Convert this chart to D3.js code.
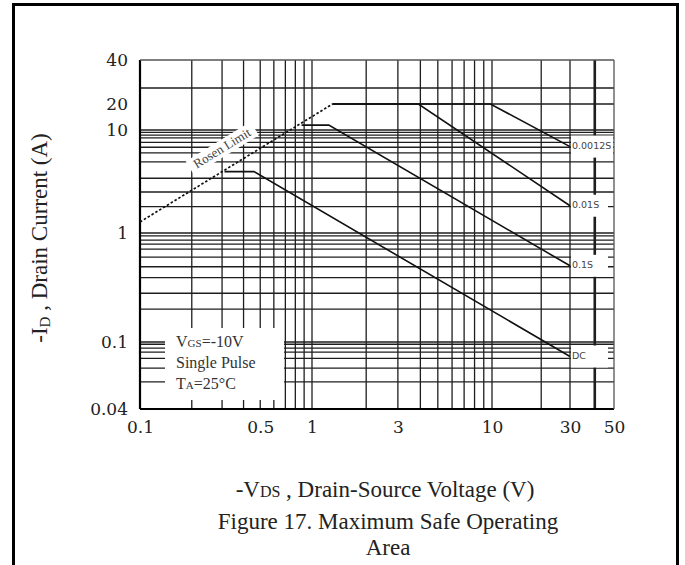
<!DOCTYPE html>
<html>
<head>
<meta charset="utf-8">
<script src="https://cdn.jsdelivr.net/npm/d3@7"></script>
<style>
  body { margin: 0; background: #fff; }
  svg { display: block; }
</style>
</head>
<body>
<div id="chart"></div>
<script>
// Maximum Safe Operating Area

// axis labels
const xTicks = [0.1, 0.5, 1, 3, 10, 30, 50];
const yTicks = [0.04, 0.1, 1, 10, 20, 40];

// grid lines as drawn in the figure
const xGrid = [0.2, 0.3, 0.4, 0.5, 0.6, 0.7, 0.8, 0.9, 1, 2, 3, 4, 5, 6, 7, 8, 9, 10, 20, 30, 40];
const yGrid = [0.058, 0.07, 0.08, 0.087, 0.092, 0.097, 0.1, 0.2, 0.28, 0.39, 0.49, 0.6, 0.71, 0.79, 0.86, 0.94,
               1, 1.8, 2.5, 3.4, 4.9, 6, 6.8, 7.6, 8.4, 8.9, 9.5, 10, 30];
const yGridPartial = [{ v: 20, from: 1.3, to: 50 }];

// RDS(on) limit line
const rdsLimit = [[0.1, 1.28], [1.3, 20]];

// pulse curves [VDS, ID]
const curveNames = ["0.0012S", "0.01S", "0.1S", "DC"];
const curve0012 = [[1.3, 20], [9.8, 20], [30, 6.9]];
const curve001 = [[1.3, 20], [3.9, 20], [30, 1.84]];
const curve01 = [[0.87, 11.4], [1.24, 11.4], [30, 0.5]];
const curveDC = [[0.31, 3.94], [0.46, 3.94], [30, 0.082]];
const curves = [curve0012, curve001, curve01, curveDC];

const W = 685, H = 565;
const svg = d3.select("#chart").append("svg")
    .attr("width", W)
    .attr("height", H);

// outer frame of the scanned figure
svg.append("rect")
    .attr("x", 13.5).attr("y", 4.5)
    .attr("width", 664).attr("height", 580)
    .attr("fill", "none")
    .attr("stroke", "#000")
    .attr("stroke-width", 3);

// the scan is not a clean log grid, so use piecewise log scales
const x = d3.scaleLog()
    .domain([0.1, 1, 10, 30, 50])
    .range([140, 312, 492, 570, 614]);
const y = d3.scaleLog()
    .domain([0.04, 0.1, 1, 10, 20, 30, 40])
    .range([409, 342, 233, 130, 104, 88, 60]);

const [x0, x1] = [x(0.1), x(50)];
const [yb, yt] = [y(0.04), y(40)];

// grid
const grid = svg.append("g").attr("stroke", "#1e1e1e").attr("stroke-width", 1.3);

grid.selectAll(".vg").data(xGrid).join("line")
    .attr("x1", d => x(d)).attr("x2", d => x(d))
    .attr("y1", yt).attr("y2", yb)
    .attr("stroke-width", d => d === 40 ? 2.6 : 1.3);

grid.selectAll(".hg").data(yGrid).join("line")
    .attr("x1", x0).attr("x2", x1)
    .attr("y1", d => y(d)).attr("y2", d => y(d));

grid.selectAll(".hp").data(yGridPartial).join("line")
    .attr("x1", d => x(d.from)).attr("x2", d => x(d.to))
    .attr("y1", d => y(d.v)).attr("y2", d => y(d.v));

// white box behind the conditions text
const legendBox = { x: 165, y: 328, w: 119, h: 72 };
svg.append("rect")
    .attr("x", legendBox.x).attr("y", legendBox.y)
    .attr("width", legendBox.w).attr("height", legendBox.h)
    .attr("fill", "#fff");

// plot frame: heavy left/bottom, light top/right
svg.append("line").attr("x1", x0).attr("x2", x0).attr("y1", yt).attr("y2", yb)
    .attr("stroke", "#000").attr("stroke-width", 2.2);
svg.append("line").attr("x1", x0).attr("x2", x1).attr("y1", yb).attr("y2", yb)
    .attr("stroke", "#000").attr("stroke-width", 2.2);
svg.append("line").attr("x1", x0).attr("x2", x1).attr("y1", yt).attr("y2", yt)
    .attr("stroke", "#555").attr("stroke-width", 1.3);
svg.append("line").attr("x1", x1).attr("x2", x1).attr("y1", yt).attr("y2", yb)
    .attr("stroke", "#555").attr("stroke-width", 1.3);

// RDS(on) limit, dotted, with its label riding above
const lineGen = d3.line().x(d => x(d[0])).y(d => y(d[1]));
const p0 = [x(rdsLimit[0][0]), y(rdsLimit[0][1])];
const p1 = [x(rdsLimit[1][0]), y(rdsLimit[1][1])];
const ang = Math.atan2(p1[1] - p0[1], p1[0] - p0[0]) * 180 / Math.PI;
const t = 0.43;
const lx = p0[0] + (p1[0] - p0[0]) * t;
const ly = p0[1] + (p1[1] - p0[1]) * t - 22;

const rLabel = svg.append("g").attr("transform", `translate(${lx},${ly}) rotate(${ang})`);
rLabel.append("rect")
    .attr("x", -38).attr("y", -9)
    .attr("width", 76).attr("height", 16)
    .attr("fill", "#fff");
rLabel.append("text")
    .attr("text-anchor", "middle")
    .attr("dominant-baseline", "middle")
    .attr("font-family", "Liberation Serif")
    .attr("font-size", "13px")
    .attr("fill", "#444")
    .text("Rosen Limit");

svg.append("path")
    .attr("d", lineGen(rdsLimit))
    .attr("fill", "none")
    .attr("stroke", "#111")
    .attr("stroke-width", 1.7)
    .attr("stroke-dasharray", "2.5,2");

// SOA curves
svg.selectAll(".curve").data(curves).join("path")
    .attr("d", d => lineGen(d))
    .attr("fill", "none")
    .attr("stroke", "#111")
    .attr("stroke-width", 1.6);

// curve labels at the right end, on white patches
curves.forEach((c, i) => {
    const end = c[c.length - 1];
    const tx = x(end[0]) + 1;
    const ty = y(end[1]);
    const g = svg.append("g");
    const bg = g.append("rect").attr("fill", "#fff");
    const txt = g.append("text")
        .attr("x", tx + 1).attr("y", ty)
        .attr("dominant-baseline", "middle")
        .attr("font-family", "DejaVu Sans")
        .attr("font-size", "9.5px")
        .attr("fill", "#444")
        .text(curveNames[i]);
    const bb = txt.node().getBBox();
    const w = Math.min(Math.max(bb.width + 8, 37), x1 - tx - 1);
    bg.attr("x", tx).attr("y", ty - 11).attr("width", w).attr("height", 22);
});

// axes
const yAxis = svg.append("g")
    .attr("transform", `translate(${x0},0)`)
    .call(d3.axisLeft(y).tickValues(yTicks).tickSize(0).tickPadding(12).tickFormat(d => String(d)));
const xAxis = svg.append("g")
    .attr("transform", `translate(0,${yb})`)
    .call(d3.axisBottom(x).tickValues(xTicks).tickSize(0).tickPadding(12).tickFormat(d => String(d)));
[xAxis, yAxis].forEach(a => {
    a.select(".domain").remove();
    a.selectAll("text")
        .attr("font-family", "DejaVu Serif")
        .attr("font-size", "17px")
        .attr("fill", "#222");
});

// test conditions
const legendLines = [
    [["V", 16], ["GS", 11], ["=-10V", 16]],
    [["Single Pulse", 16]],
    [["T", 16], ["A", 11], ["=25°C", 16]]
];
legendLines.forEach((parts, i) => {
    const txt = svg.append("text")
        .attr("x", 176)
        .attr("y", 347 + i * 21)
        .attr("font-family", "Liberation Serif")
        .attr("fill", "#333");
    parts.forEach(p => txt.append("tspan").attr("font-size", p[1] + "px").text(p[0]));
});

// axis titles
const yTitle = svg.append("text")
    .attr("transform", "translate(47,238) rotate(-90)")
    .attr("text-anchor", "middle")
    .attr("font-family", "Liberation Serif")
    .attr("font-size", "23px")
    .attr("fill", "#222");
yTitle.append("tspan").text("-I");
yTitle.append("tspan").attr("font-size", "15px").attr("dy", 3).text("D");
yTitle.append("tspan").attr("dy", -3).text(" , Drain Current (A)");

const xTitle = svg.append("text")
    .attr("x", 385).attr("y", 497)
    .attr("text-anchor", "middle")
    .attr("font-family", "Liberation Serif")
    .attr("font-size", "23px")
    .attr("fill", "#222");
xTitle.append("tspan").text("-V");
xTitle.append("tspan").attr("font-size", "16px").text("DS");
xTitle.append("tspan").text(" , Drain-Source Voltage (V)");

svg.append("text")
    .attr("x", 388).attr("y", 529)
    .attr("text-anchor", "middle")
    .attr("font-family", "Liberation Serif")
    .attr("font-size", "23px")
    .attr("fill", "#222")
    .text("Figure 17. Maximum Safe Operating");

svg.append("text")
    .attr("x", 388).attr("y", 555)
    .attr("text-anchor", "middle")
    .attr("font-family", "Liberation Serif")
    .attr("font-size", "23px")
    .attr("fill", "#222")
    .text("Area");
</script>
</body>
</html>
